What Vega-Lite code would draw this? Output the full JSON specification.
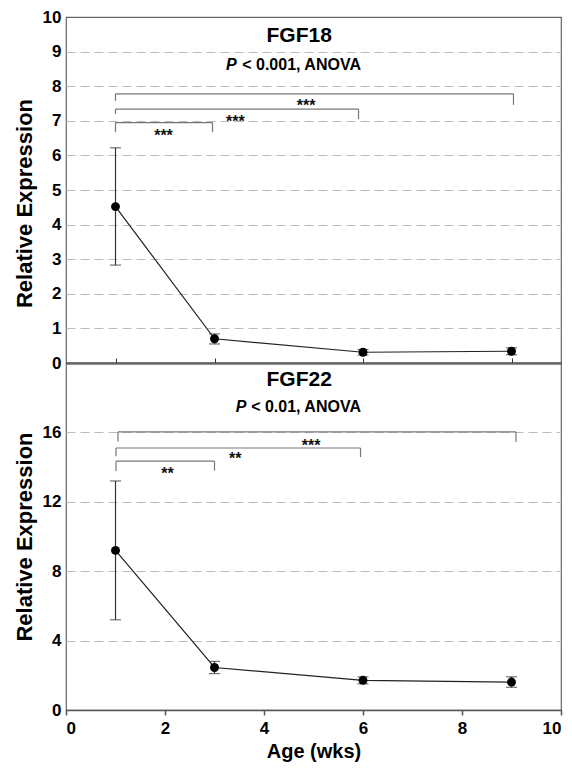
{
  "$schema": "https://vega.github.io/schema/vega-lite/v6.json",
  "padding": {"left": 12, "top": 7, "right": 0, "bottom": 0},
  "spacing": 0,
  "bounds": "flush",
  "config": {
    "font": "Liberation Sans",
    "view": {"stroke": "#666", "strokeWidth": 1.2},
    "axis": {
      "labelFont": "Liberation Sans", "labelFontWeight": "bold", "labelFontSize": 17, "labelColor": "#000",
      "titleFont": "Liberation Sans", "titleFontWeight": "bold", "titleColor": "#000",
      "domainColor": "#333", "tickColor": "#333"
    }
  },
  "datasets": {
    "pts": [
      {"panel": "FGF18", "age": 1, "mean": 4.52, "lo": 2.83, "hi": 6.22},
      {"panel": "FGF18", "age": 3, "mean": 0.70, "lo": 0.55, "hi": 0.84},
      {"panel": "FGF18", "age": 6, "mean": 0.31, "lo": 0.23, "hi": 0.39},
      {"panel": "FGF18", "age": 9, "mean": 0.34, "lo": 0.24, "hi": 0.44},
      {"panel": "FGF22", "age": 1, "mean": 9.2, "lo": 5.2, "hi": 13.2},
      {"panel": "FGF22", "age": 3, "mean": 2.45, "lo": 2.1, "hi": 2.8},
      {"panel": "FGF22", "age": 6, "mean": 1.71, "lo": 1.51, "hi": 1.91},
      {"panel": "FGF22", "age": 9, "mean": 1.61, "lo": 1.31, "hi": 1.91}
    ],
    "brk": [
      {"panel": "FGF18", "x1": 1.0, "x2": 9.04, "yh": 7.78, "yl": 7.58, "yr": 7.46, "tx": 4.85, "ty": 7.28, "stars": "***"},
      {"panel": "FGF18", "x1": 1.0, "x2": 5.91, "yh": 7.34, "yl": 7.20, "yr": 7.05, "tx": 3.42, "ty": 6.81, "stars": "***"},
      {"panel": "FGF18", "x1": 1.0, "x2": 2.96, "yh": 6.95, "yl": 6.67, "yr": 6.67, "tx": 1.97, "ty": 6.43, "stars": "***"},
      {"panel": "FGF22", "x1": 1.05, "x2": 9.09, "yh": 16.03, "yl": 15.48, "yr": 15.45, "tx": 4.95, "ty": 14.93, "stars": "***"},
      {"panel": "FGF22", "x1": 1.01, "x2": 5.95, "yh": 15.1, "yl": 14.62, "yr": 14.58, "tx": 3.42, "ty": 14.18, "stars": "**"},
      {"panel": "FGF22", "x1": 1.01, "x2": 3.0, "yh": 14.34, "yl": 13.78, "yr": 13.8, "tx": 2.05, "ty": 13.34, "stars": "**"}
    ],
    "ttl": [
      {"panel": "FGF18", "kind": "name", "x": 4.71, "y": 9.28, "text": "FGF18"},
      {"panel": "FGF18", "kind": "P", "x": 3.23, "y": 8.46, "text": "P"},
      {"panel": "FGF18", "kind": "rest", "x": 3.56, "y": 8.46, "text": "< 0.001, ANOVA"},
      {"panel": "FGF22", "kind": "name", "x": 4.71, "y": 18.69, "text": "FGF22"},
      {"panel": "FGF22", "kind": "P", "x": 3.43, "y": 17.15, "text": "P"},
      {"panel": "FGF22", "kind": "rest", "x": 3.74, "y": 17.15, "text": "< 0.01, ANOVA"}
    ]
  },
  "vconcat": [
    {
      "width": 495, "height": 346,
      "layer": [
        {
          "data": {"name": "pts"},
          "transform": [{"filter": "datum.panel == 'FGF18'"}],
          "mark": {"type": "line", "color": "#222", "strokeWidth": 1.2},
          "encoding": {
            "x": {"field": "age", "type": "quantitative", "scale": {"domain": [0, 10], "nice": false},
                  "axis": {"title": null, "values": [1, 3, 6, 9], "labels": false, "tickSize": -5, "grid": false, "domainWidth": 1.8, "domainColor": "#222"}},
            "y": {"field": "mean", "type": "quantitative", "scale": {"domain": [0, 10], "nice": false},
                  "axis": {"title": "Relative Expression", "titleFontSize": 22, "titlePadding": 6, "titleY": 186, "values": [0,1,2,3,4,5,6,7,8,9,10], "tickCount": 20, "format": "d", "labelOverlap": false, "ticks": false, "tickSize": 0, "labelPadding": 5, "domain": false,
                           "grid": true, "gridColor": "#bbb", "gridDash": [9, 5], "gridWidth": 1.2,
                           "gridOpacity": {"condition": {"test": "datum.value === 0 || datum.value === 10", "value": 0}, "value": 1}}}
          }
        },
        {
          "data": {"name": "pts"},
          "transform": [{"filter": "datum.panel == 'FGF18'"}],
          "mark": {"type": "rule", "color": "#333", "strokeWidth": 1.2},
          "encoding": {"x": {"field": "age", "type": "quantitative"}, "y": {"field": "lo", "type": "quantitative"}, "y2": {"field": "hi"}}
        },
        {
          "data": {"name": "pts"},
          "transform": [{"filter": "datum.panel == 'FGF18'"}, {"fold": ["lo", "hi"], "as": ["end", "val"]}],
          "mark": {"type": "tick", "orient": "horizontal", "color": "#333", "size": 11, "thickness": 1.2},
          "encoding": {"x": {"field": "age", "type": "quantitative"}, "y": {"field": "val", "type": "quantitative"}}
        },
        {
          "data": {"name": "pts"},
          "transform": [{"filter": "datum.panel == 'FGF18'"}],
          "mark": {"type": "point", "filled": true, "color": "#000", "size": 80, "opacity": 1},
          "encoding": {"x": {"field": "age", "type": "quantitative"}, "y": {"field": "mean", "type": "quantitative"}}
        },
        {
          "data": {"name": "brk"},
          "transform": [{"filter": "datum.panel == 'FGF18'"}],
          "mark": {"type": "rule", "color": "#777", "strokeWidth": 1.2},
          "encoding": {"x": {"field": "x1", "type": "quantitative"}, "x2": {"field": "x2"}, "y": {"field": "yh", "type": "quantitative"}}
        },
        {
          "data": {"name": "brk"},
          "transform": [{"filter": "datum.panel == 'FGF18'"}],
          "mark": {"type": "rule", "color": "#777", "strokeWidth": 1.2},
          "encoding": {"x": {"field": "x1", "type": "quantitative"}, "y": {"field": "yl", "type": "quantitative"}, "y2": {"field": "yh"}}
        },
        {
          "data": {"name": "brk"},
          "transform": [{"filter": "datum.panel == 'FGF18'"}],
          "mark": {"type": "rule", "color": "#777", "strokeWidth": 1.2},
          "encoding": {"x": {"field": "x2", "type": "quantitative"}, "y": {"field": "yr", "type": "quantitative"}, "y2": {"field": "yh"}}
        },
        {
          "data": {"name": "brk"},
          "transform": [{"filter": "datum.panel == 'FGF18'"}],
          "mark": {"type": "text", "fontSize": 16, "fontWeight": "bold", "color": "#111", "align": "center", "baseline": "alphabetic"},
          "encoding": {"x": {"field": "tx", "type": "quantitative"}, "y": {"field": "ty", "type": "quantitative"}, "text": {"field": "stars"}}
        },
        {
          "data": {"name": "ttl"},
          "transform": [{"filter": "datum.panel == 'FGF18' && datum.kind == 'name'"}],
          "mark": {"type": "text", "fontSize": 21, "fontWeight": "bold", "color": "#000", "align": "center", "baseline": "alphabetic"},
          "encoding": {"x": {"field": "x", "type": "quantitative"}, "y": {"field": "y", "type": "quantitative"}, "text": {"field": "text"}}
        },
        {
          "data": {"name": "ttl"},
          "transform": [{"filter": "datum.panel == 'FGF18' && datum.kind == 'P'"}],
          "mark": {"type": "text", "fontSize": 16, "fontWeight": "bold", "fontStyle": "italic", "color": "#000", "align": "left", "baseline": "alphabetic"},
          "encoding": {"x": {"field": "x", "type": "quantitative"}, "y": {"field": "y", "type": "quantitative"}, "text": {"field": "text"}}
        },
        {
          "data": {"name": "ttl"},
          "transform": [{"filter": "datum.panel == 'FGF18' && datum.kind == 'rest'"}],
          "mark": {"type": "text", "fontSize": 16, "fontWeight": "bold", "color": "#000", "align": "left", "baseline": "alphabetic"},
          "encoding": {"x": {"field": "x", "type": "quantitative"}, "y": {"field": "y", "type": "quantitative"}, "text": {"field": "text"}}
        }
      ]
    },
    {
      "width": 495, "height": 347,
      "layer": [
        {
          "data": {"name": "pts"},
          "transform": [{"filter": "datum.panel == 'FGF22'"}],
          "mark": {"type": "line", "color": "#222", "strokeWidth": 1.2},
          "encoding": {
            "x": {"field": "age", "type": "quantitative", "scale": {"domain": [0, 10], "nice": false},
                  "axis": {"title": "Age (wks)", "titleFontSize": 20, "titlePadding": 5, "values": [0, 2, 4, 6, 8, 10], "tickSize": 5, "labelPadding": 5, "grid": false, "domainWidth": 1.5, "domainColor": "#555", "tickColor": "#555", "tickWidth": 1.5}},
            "y": {"field": "mean", "type": "quantitative", "scale": {"domain": [0, 20], "nice": false},
                  "axis": {"title": "Relative Expression", "titleFontSize": 22, "titlePadding": 6, "values": [0, 4, 8, 12, 16], "tickCount": 20, "format": "d", "labelOverlap": false, "ticks": false, "tickSize": 0, "labelPadding": 5, "domain": false,
                           "grid": true, "gridColor": "#bbb", "gridDash": [9, 5], "gridWidth": 1.2,
                           "gridOpacity": {"condition": {"test": "datum.value === 0", "value": 0}, "value": 1}}}
          }
        },
        {
          "data": {"name": "pts"},
          "transform": [{"filter": "datum.panel == 'FGF22'"}],
          "mark": {"type": "rule", "color": "#333", "strokeWidth": 1.2},
          "encoding": {"x": {"field": "age", "type": "quantitative"}, "y": {"field": "lo", "type": "quantitative"}, "y2": {"field": "hi"}}
        },
        {
          "data": {"name": "pts"},
          "transform": [{"filter": "datum.panel == 'FGF22'"}, {"fold": ["lo", "hi"], "as": ["end", "val"]}],
          "mark": {"type": "tick", "orient": "horizontal", "color": "#333", "size": 11, "thickness": 1.2},
          "encoding": {"x": {"field": "age", "type": "quantitative"}, "y": {"field": "val", "type": "quantitative"}}
        },
        {
          "data": {"name": "pts"},
          "transform": [{"filter": "datum.panel == 'FGF22'"}],
          "mark": {"type": "point", "filled": true, "color": "#000", "size": 80, "opacity": 1},
          "encoding": {"x": {"field": "age", "type": "quantitative"}, "y": {"field": "mean", "type": "quantitative"}}
        },
        {
          "data": {"name": "brk"},
          "transform": [{"filter": "datum.panel == 'FGF22'"}],
          "mark": {"type": "rule", "color": "#777", "strokeWidth": 1.2},
          "encoding": {"x": {"field": "x1", "type": "quantitative"}, "x2": {"field": "x2"}, "y": {"field": "yh", "type": "quantitative"}}
        },
        {
          "data": {"name": "brk"},
          "transform": [{"filter": "datum.panel == 'FGF22'"}],
          "mark": {"type": "rule", "color": "#777", "strokeWidth": 1.2},
          "encoding": {"x": {"field": "x1", "type": "quantitative"}, "y": {"field": "yl", "type": "quantitative"}, "y2": {"field": "yh"}}
        },
        {
          "data": {"name": "brk"},
          "transform": [{"filter": "datum.panel == 'FGF22'"}],
          "mark": {"type": "rule", "color": "#777", "strokeWidth": 1.2},
          "encoding": {"x": {"field": "x2", "type": "quantitative"}, "y": {"field": "yr", "type": "quantitative"}, "y2": {"field": "yh"}}
        },
        {
          "data": {"name": "brk"},
          "transform": [{"filter": "datum.panel == 'FGF22'"}],
          "mark": {"type": "text", "fontSize": 16, "fontWeight": "bold", "color": "#111", "align": "center", "baseline": "alphabetic"},
          "encoding": {"x": {"field": "tx", "type": "quantitative"}, "y": {"field": "ty", "type": "quantitative"}, "text": {"field": "stars"}}
        },
        {
          "data": {"name": "ttl"},
          "transform": [{"filter": "datum.panel == 'FGF22' && datum.kind == 'name'"}],
          "mark": {"type": "text", "fontSize": 21, "fontWeight": "bold", "color": "#000", "align": "center", "baseline": "alphabetic"},
          "encoding": {"x": {"field": "x", "type": "quantitative"}, "y": {"field": "y", "type": "quantitative"}, "text": {"field": "text"}}
        },
        {
          "data": {"name": "ttl"},
          "transform": [{"filter": "datum.panel == 'FGF22' && datum.kind == 'P'"}],
          "mark": {"type": "text", "fontSize": 16, "fontWeight": "bold", "fontStyle": "italic", "color": "#000", "align": "left", "baseline": "alphabetic"},
          "encoding": {"x": {"field": "x", "type": "quantitative"}, "y": {"field": "y", "type": "quantitative"}, "text": {"field": "text"}}
        },
        {
          "data": {"name": "ttl"},
          "transform": [{"filter": "datum.panel == 'FGF22' && datum.kind == 'rest'"}],
          "mark": {"type": "text", "fontSize": 16, "fontWeight": "bold", "color": "#000", "align": "left", "baseline": "alphabetic"},
          "encoding": {"x": {"field": "x", "type": "quantitative"}, "y": {"field": "y", "type": "quantitative"}, "text": {"field": "text"}}
        }
      ]
    }
  ]
}
